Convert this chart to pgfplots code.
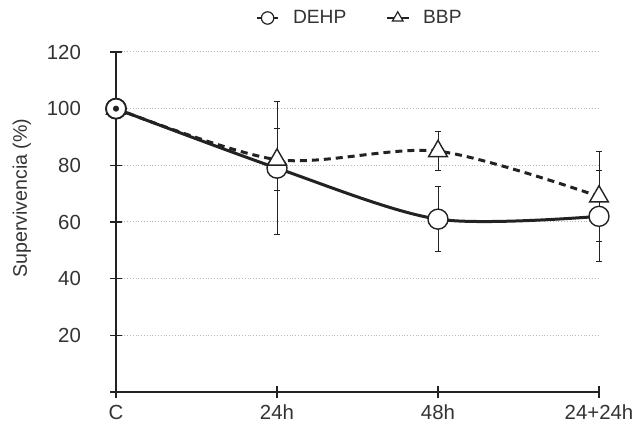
\documentclass[border=0pt]{standalone}
\usepackage{pgfplots}
\usepackage{pgfplotstable}
\pgfplotsset{compat=1.18}
\usepackage{fontspec}
\setmainfont{Liberation Sans}
\definecolor{ink}{HTML}{222222}
\definecolor{txt}{HTML}{333333}

\pgfplotstableread{
x y e
0 100 0
1 79 23.5
2 61 11.5
3 62 16
}\dehp
\pgfplotstableread{
x y e
0 100 0
1 82 11
2 85 7
3 69 16
}\bbp

\begin{document}
\begin{tikzpicture}
\begin{axis}[
  scale only axis,
  width=241.5pt, height=170pt,
  xmin=0, xmax=3, ymin=0, ymax=120,
  axis x line=bottom, axis y line=left,
  axis line style={-, ink, line width=0.8pt},
  xtick={0,1,2,3},
  xticklabels={C,24h,48h,24+24h},
  ytick={0,20,40,60,80,100,120},
  yticklabels={,20,40,60,80,100,120},
  tick align=center,
  major tick length=6pt,
  tick style={ink, line width=0.8pt},
  ymajorgrids,
  grid style={densely dotted, gray!55, line width=0.5pt},
  tick label style={font=\fontsize{10.2}{12}\selectfont, text=txt},
  yticklabel shift={11pt},
  ylabel={Supervivencia (\%)},
  ylabel style={font=\fontsize{9.8}{12}\selectfont, text=txt, at={(axis description cs:-0.195,0.57)}, anchor=center},
  legend style={draw=none, fill=none, at={(0.507,1.1)}, anchor=center,
    font=\fontsize{9.6}{12}\selectfont, text=txt, legend columns=2,
    /tikz/every odd column/.append style={column sep=5pt},
    /tikz/every even column/.append style={column sep=18pt}},
  legend image code/.code={%
    \draw[solid, line width=0.6pt] (0cm,0cm) -- (0.38cm,0cm);
    \draw[mark size=3.1pt, mark options={solid, fill=white, draw=ink, line width=0.6pt}] plot coordinates {(0.19cm,0cm)};},
  clip=false,
]
\addplot[ink, line width=1.5pt, smooth, mark=*, mark size=5pt,
  mark options={solid, fill=white, draw=ink, line width=0.7pt},
  error bars/.cd, y dir=both, y explicit,
  error bar style={line width=0.5pt, ink, solid},
  error mark options={rotate=90, mark size=1.6pt, line width=0.5pt, ink, solid}]
  table[x=x, y=y, y error=e] {\dehp};
\addlegendentry{DEHP}
\addplot[ink, line width=1.5pt, smooth, dash pattern=on 3.5pt off 2.5pt, mark=triangle*, mark size=5.4pt,
  mark options={solid, fill=white, draw=ink, line width=0.7pt},
  error bars/.cd, y dir=both, y explicit,
  error bar style={line width=0.5pt, ink, solid},
  error mark options={rotate=90, mark size=1.6pt, line width=0.5pt, ink, solid}]
  table[x=x, y=y, y error=e] {\bbp};
\addlegendentry{BBP}
\addplot[forget plot, only marks, mark=*, mark size=5pt, ink, mark options={fill=white, draw=ink, line width=0.9pt}] coordinates {(0,100)};
\addplot[forget plot, only marks, mark=*, mark size=1.3pt, ink] coordinates {(0,100)};
\end{axis}
\pgfresetboundingbox
\path ([shift={(-58pt,-17.5pt)}]current axis.south west) rectangle ([shift={(19pt,26pt)}]current axis.north east);
\end{tikzpicture}
\end{document}
